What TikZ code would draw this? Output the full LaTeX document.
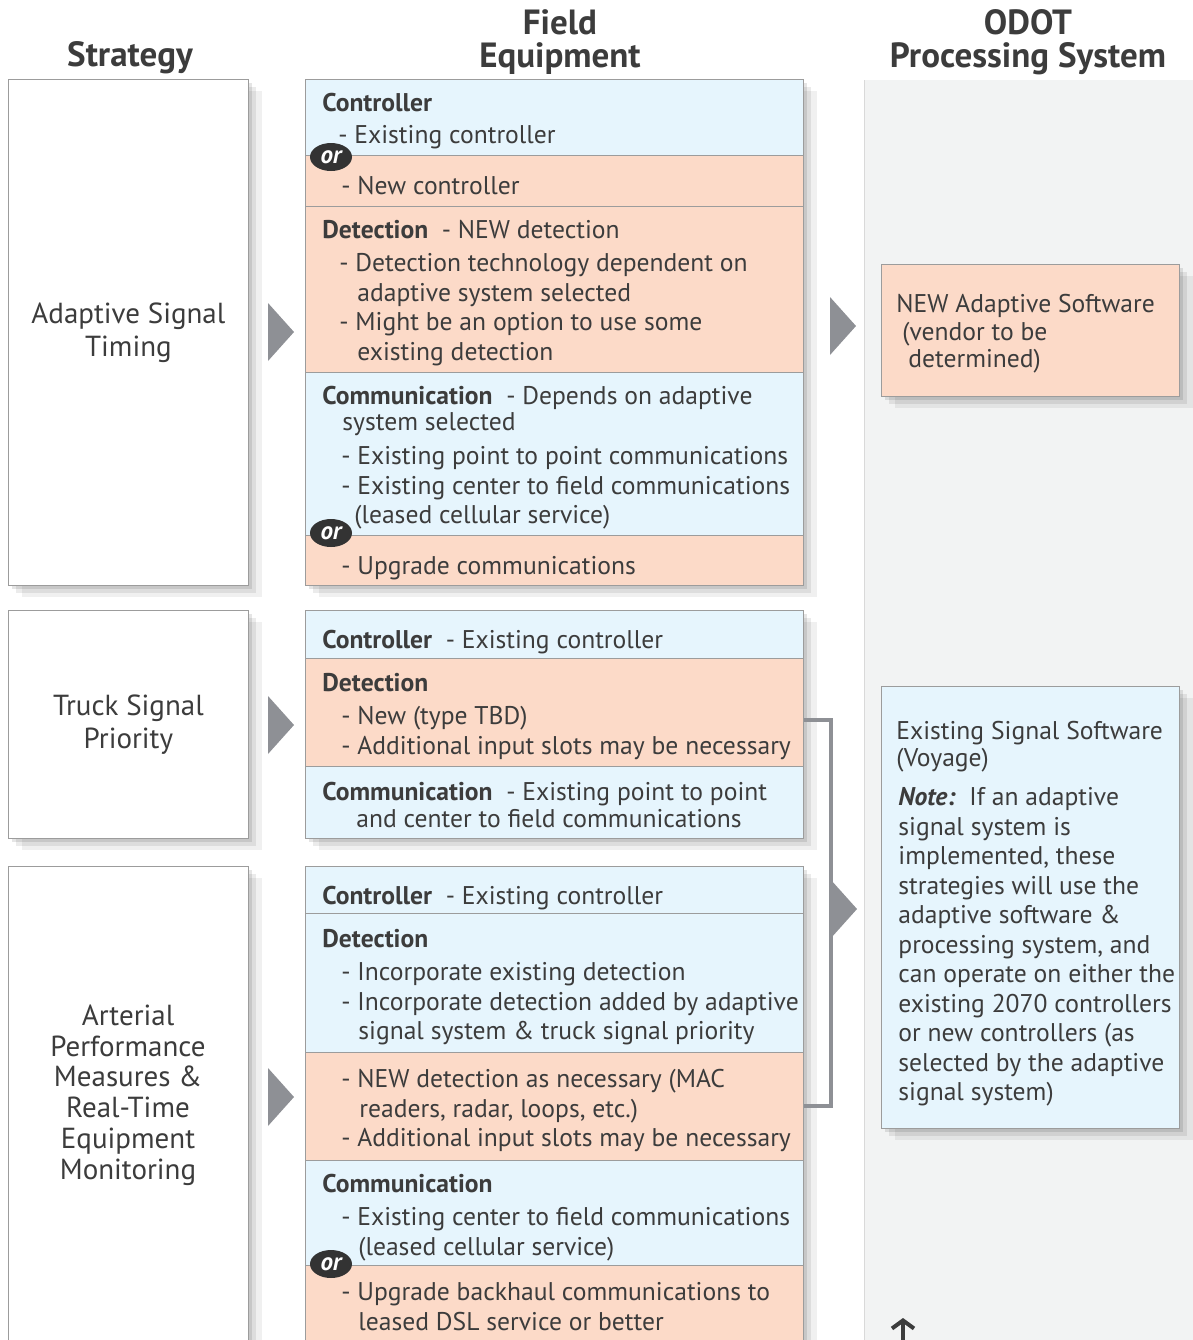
\documentclass[tikz,border=0pt]{standalone}
\usepackage{fontspec}
\setmainfont{PT Sans}
\usetikzlibrary{shapes.geometric,shadows,arrows.meta}

\definecolor{ink}{HTML}{3C3C3C}
\definecolor{paleblue}{HTML}{E6F5FD}
\definecolor{peach}{HTML}{FCDAC8}
\definecolor{edge}{HTML}{9C9C9C}
\definecolor{flowgray}{HTML}{8E9095}
\definecolor{panel}{HTML}{F2F3F3}

\tikzset{
    grp/.style = {anchor=north west, inner sep=0, fill=white, draw=edge,
                 drop shadow={shadow xshift=2pt,shadow yshift=-2pt,opacity=.10,fill=black},
                 drop shadow={shadow xshift=4pt,shadow yshift=-4pt,opacity=.08,fill=black},
                 drop shadow={shadow xshift=7pt,shadow yshift=-6pt,opacity=.06,fill=black}},
    sec/.style = {anchor=north west, inner sep=0, draw=edge, minimum width=249pt},
    bluesec/.style = {sec, fill=paleblue},
    peachsec/.style = {sec, fill=peach},
    txt/.style = {anchor=north west, yshift=9pt, align=left, inner sep=0, text=ink,
                 font=\fontsize{12.8}{14.75}\selectfont,
                 execute at begin node={\rule{0pt}{11pt}}},
    strat/.style = {align=center, inner sep=0, text=ink,
                 font=\fontsize{14.5}{16.5}\selectfont},
    head/.style = {align=center, inner sep=0, text=ink,
                 font=\fontsize{17.5}{16.5}\selectfont\bfseries},
    orbadge/.style = {ellipse, fill=black!80, text=white, inner sep=0,
                 minimum width=21pt, minimum height=14pt,
                 font=\fontsize{12.5}{12}\selectfont\bfseries\itshape},
    flow/.style = {fill=flowgray},
    bracket/.style = {draw=flowgray, line width=2pt},
}

\begin{document}
\begin{tikzpicture}[x=0.5pt,y=-0.5pt]
 \useasboundingbox (0,0) rectangle (1193,1340);

 % headings
 \node (hstrat) [head] at (130,58) {Strategy};
 \node (hfield) [head] at (560,42) {Field\\Equipment};
 \node (hodot)  [head] at (1028,42) {ODOT\\Processing System};

 % processing system panel
 \fill[panel] (864,80) rectangle (1200,1350);
 \draw[black!15] (864,80) -- (864,1350);

 % strategy boxes
 \node (s1) [grp, minimum width=120pt, minimum height=253pt] at (8,79) {};
 \node (s2) [grp, minimum width=120pt, minimum height=114pt] at (8,610) {};
 \node (s3) [grp, minimum width=120pt, minimum height=242pt] at (8,866) {};
 \node (s1t) [strat] at (s1.center) {Adaptive Signal\\Timing};
 \node (s2t) [strat] at (s2.center) {Truck Signal\\Priority};
 \node (s3t) [strat, font=\fontsize{14.5}{15.4}\selectfont] at (128,1095)
   {Arterial\\Performance\\Measures \&\\Real-Time\\Equipment\\Monitoring};

 % field equipment, adaptive signal timing
 \node (g1) [grp, minimum width=249pt, minimum height=253pt] at (305,79) {};
 \node (c1)  [bluesec,  minimum height=38pt]   at (305,79)  {};
 \node (c1b) [peachsec, minimum height=25.5pt] at (305,155) {};
 \node (d1)  [peachsec, minimum height=83pt]   at (305,206) {};
 \node (m1)  [bluesec,  minimum height=81.5pt] at (305,372) {};
 \node (m1b) [peachsec, minimum height=25pt]   at (305,535) {};
 \node (c1t) [txt] at (322,111) {\textbf{Controller}\\[1.25pt]\hspace*{8pt}- Existing controller};
 \node (c1bt) [txt] at (322,190) {\hspace*{9.5pt}- New controller};
 \node (d1t) [txt] at (322,238) {\textbf{Detection}\ \ - NEW detection\\[1.75pt]
   \hspace*{8.5pt}- Detection technology dependent on\\
   \hspace*{17.5pt}adaptive system selected\\
   \hspace*{8.5pt}- Might be an option to use some\\
   \hspace*{17.5pt}existing detection};
 \node (m1t) [txt] at (322,404) {\textbf{Communication}\ \ - Depends on adaptive\\[-1.75pt]
   \hspace*{10pt}system selected\\[2.25pt]
   \hspace*{9.5pt}- Existing point to point communications\\
   \hspace*{9.5pt}- Existing center to field communications\\
   \hspace*{16pt}(leased cellular service)};
 \node (m1bt) [txt] at (322,570) {\hspace*{9.5pt}- Upgrade communications};
 \node (or1) [orbadge] at (331,157) {or};
 \node (or2) [orbadge] at (331,533) {or};

 % field equipment, truck signal priority
 \node (g2) [grp, minimum width=249pt, minimum height=114pt] at (305,610) {};
 \node (c2) [bluesec,  minimum height=24pt] at (305,610) {};
 \node (d2) [peachsec, minimum height=54pt] at (305,658) {};
 \node (m2) [bluesec,  minimum height=36pt] at (305,766) {};
 \node (c2t) [txt] at (322,644) {\textbf{Controller}\ \ - Existing controller};
 \node (d2t) [txt] at (322,691) {\textbf{Detection}\\[1.75pt]
   \hspace*{9.5pt}- New (type TBD)\\
   \hspace*{9.5pt}- Additional input slots may be necessary};
 \node (m2t) [txt] at (322,800) {\textbf{Communication}\ \ - Existing point to point\\[-1.25pt]
   \hspace*{17pt}and center to field communications};

 % field equipment, arterial performance measures
 \node (g3) [grp, minimum width=249pt, minimum height=242pt] at (305,866) {};
 \node (c3)  [bluesec,  minimum height=23.5pt] at (305,866)  {};
 \node (d3)  [bluesec,  minimum height=69.5pt] at (305,913)  {};
 \node (d3b) [peachsec, minimum height=54pt]   at (305,1052) {};
 \node (m3)  [bluesec,  minimum height=52.5pt] at (305,1160) {};
 \node (m3b) [peachsec, minimum height=42.5pt] at (305,1265) {};
 \node (c3t) [txt] at (322,900) {\textbf{Controller}\ \ - Existing controller};
 \node (d3t) [txt] at (322,947) {\textbf{Detection}\\[1.75pt]
   \hspace*{9.5pt}- Incorporate existing detection\\
   \hspace*{9.5pt}- Incorporate detection added by adaptive\\
   \hspace*{18pt}signal system \& truck signal priority};
 \node (d3bt) [txt] at (322,1087) {\hspace*{9.5pt}- NEW detection as necessary (MAC\\
   \hspace*{18.5pt}readers, radar, loops, etc.)\\
   \hspace*{9.5pt}- Additional input slots may be necessary};
 \node (m3t) [txt] at (322,1192) {\textbf{Communication}\\[1.75pt]
   \hspace*{9.5pt}- Existing center to field communications\\
   \hspace*{18pt}(leased cellular service)};
 \node (m3bt) [txt] at (322,1300) {\hspace*{9.5pt}- Upgrade backhaul communications to\\
   \hspace*{18pt}leased DSL service or better};
 \node (or3) [orbadge] at (331,1264) {or};

 % processing system boxes
 \node (r1) [grp, fill=peach, minimum width=149pt, minimum height=66pt] at (881,264) {};
 \node (r2) [grp, fill=paleblue, minimum width=149pt, minimum height=221pt] at (881,686) {};
 \node (r1t) [txt, font=\fontsize{12.8}{13.75}\selectfont] at (896,312)
   {NEW Adaptive Software\\\hspace*{3pt}(vendor to be\\\hspace*{6pt}determined)};
 \node (r2t) [txt] at (896,739) {Existing Signal Software\\[-1.25pt]
   (Voyage)\\[4.75pt]
   \hspace*{1pt}\textbf{\textit{Note:}}\ \ If an adaptive\\
   \hspace*{1pt}signal system is\\
   \hspace*{1pt}implemented, these\\
   \hspace*{1pt}strategies will use the\\
   \hspace*{1pt}adaptive software \&\\
   \hspace*{1pt}processing system, and\\
   \hspace*{1pt}can operate on either the\\
   \hspace*{1pt}existing 2070 controllers\\
   \hspace*{1pt}or new controllers (as\\
   \hspace*{1pt}selected by the adaptive\\
   \hspace*{1pt}signal system)};

 % flow triangles
 \fill[flow] (268,303) -- ++(26,29) -- ++(-26,29) -- cycle;
 \fill[flow] (268,696) -- ++(26,29) -- ++(-26,29) -- cycle;
 \fill[flow] (268,1068) -- ++(26,29) -- ++(-26,29) -- cycle;
 \fill[flow] (830,297) -- ++(26,29) -- ++(-26,29) -- cycle;
 \fill[flow] (831,880) -- ++(26,29) -- ++(-26,29) -- cycle;

 % bracket joining the shared detection
 \draw[bracket] ([yshift=-4pt]d2.east) -- ++(27,0) |- (d3b.east);

 % arrow leaving the bottom
 \coordinate (up0) at (903,1350);
 \coordinate (up1) at (903,1318);
 \draw[draw=ink, line width=2pt, -{Straight Barb[length=4pt,width=11pt]}] (up0) -- (up1);
\end{tikzpicture}
\end{document}
